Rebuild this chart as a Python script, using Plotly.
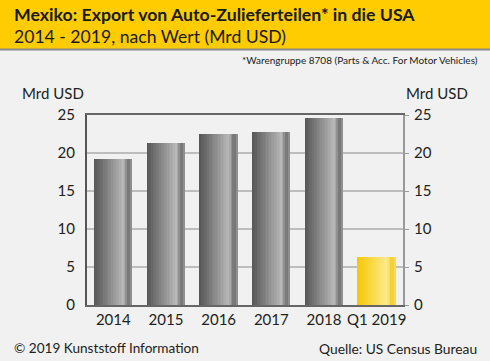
import plotly.graph_objects as go

categories = ["2014", "2015", "2016", "2017", "2018", "Q1 2019"]
values = [19.2, 21.3, 22.5, 22.8, 24.6, 6.3]
y_ticks = [0, 5, 10, 15, 20, 25]

W, H = 490, 361
L, R, T, B = 87, 87, 115, 56
PW, PH = W - L - R, H - T - B

def px(x):
    return (x - L) / PW

def py(y):
    return (H - B - y) / PH

def lerp(c1, c2, t):
    return tuple(int(round(a + (b - a) * t)) for a, b in zip(c1, c2))

def grad(t, dark, light, edge):
    if t < 0.78:
        return lerp(dark, light, t / 0.78)
    elif t < 0.92:
        return lerp(light, edge, (t - 0.78) / 0.14)
    else:
        return lerp(edge, light, (t - 0.92) / 0.08 * 0.6)

gray_dark, gray_light, gray_edge = (85, 85, 85), (185, 185, 185), (110, 110, 110)
yel_dark, yel_light, yel_edge = (246, 200, 0), (253, 234, 140), (245, 205, 40)

xs = list(range(len(categories)))
bw = 0.72
N = 24
sw = bw / N

fig = go.Figure()
for i in range(N):
    t = (i + 0.5) / N
    cols = []
    for c in categories:
        if c.startswith("Q1"):
            rgb = grad(t, yel_dark, yel_light, yel_edge)
        else:
            rgb = grad(t, gray_dark, gray_light, gray_edge)
        cols.append("rgb(%d,%d,%d)" % rgb)
    fig.add_trace(go.Bar(
        x=xs, y=values, width=sw * 1.05, offset=-bw / 2 + i * sw,
        marker=dict(color=cols, line=dict(width=0)),
        showlegend=False, hoverinfo="skip",
    ))

fig.add_trace(go.Scatter(x=[xs[0]], y=[0], yaxis="y2", mode="markers",
                         marker=dict(opacity=0), showlegend=False, hoverinfo="skip"))

font_family = "Lato, 'Open Sans', sans-serif"
tick_font = dict(family=font_family, size=15, color="#222")

fig.update_layout(
    width=W, height=H,
    margin=dict(l=L, r=R, t=T, b=B),
    paper_bgcolor="#f0f1f0", plot_bgcolor="#f0f1f0",
    barmode="overlay", bargap=0,
    font=dict(family=font_family, color="#222"),
    xaxis=dict(
        range=[-0.5, len(categories) - 0.5],
        tickvals=xs, ticktext=categories, tickfont=tick_font,
        showgrid=False, zeroline=False,
        showline=True, linecolor="#666", linewidth=2, mirror=True,
        ticks="", ticklabelstandoff=0,
    ),
    yaxis=dict(
        range=[0, 25], tickvals=y_ticks, tickfont=tick_font,
        showgrid=True, gridcolor="#bdbdbd", gridwidth=1.5, zeroline=False,
        showline=True, linecolor="#555", linewidth=2,
        ticks="", ticklabelstandoff=7,
    ),
    yaxis2=dict(
        range=[0, 25], tickvals=y_ticks, tickfont=tick_font,
        overlaying="y", side="right", showgrid=False, zeroline=False,
        showline=True, linecolor="#999", linewidth=2,
        ticks="outside", ticklen=4, tickcolor="#999", ticklabelstandoff=2,
    ),
    shapes=[
        dict(type="rect", xref="paper", yref="paper", x0=px(0), x1=px(W),
             y0=py(49), y1=py(0), fillcolor="#fecc00", line=dict(width=0), layer="below"),
        dict(type="line", xref="paper", yref="paper", x0=px(0), x1=px(W),
             y0=py(49.5), y1=py(49.5), line=dict(color="#8a8a8a", width=2)),
    ],
    annotations=[
        dict(text="<b>Mexiko: Export von Auto-Zulieferteilen* in die USA</b>",
             xref="paper", yref="paper", x=px(12), y=py(15), xanchor="left", yanchor="middle",
             showarrow=False, font=dict(family=font_family, size=17.7, color="#1a1a1a")),
        dict(text="2014 - 2019, nach Wert (Mrd USD)",
             xref="paper", yref="paper", x=px(12), y=py(36), xanchor="left", yanchor="middle",
             showarrow=False, font=dict(family=font_family, size=17.6, color="#1a1a1a")),
        dict(text="*Warengruppe 8708 (Parts & Acc. For Motor Vehicles)",
             xref="paper", yref="paper", x=px(480), y=py(60), xanchor="right", yanchor="middle",
             showarrow=False, font=dict(family=font_family, size=10, color="#222")),
        dict(text="Mrd USD",
             xref="paper", yref="paper", x=px(86), y=py(93), xanchor="right", yanchor="middle",
             showarrow=False, font=dict(family=font_family, size=15, color="#222")),
        dict(text="Mrd USD",
             xref="paper", yref="paper", x=px(404), y=py(93), xanchor="left", yanchor="middle",
             showarrow=False, font=dict(family=font_family, size=15, color="#222")),
        dict(text="© 2019 Kunststoff Information",
             xref="paper", yref="paper", x=px(12), y=py(348), xanchor="left", yanchor="middle",
             showarrow=False, font=dict(family=font_family, size=13.6, color="#222")),
        dict(text="Quelle: US Census Bureau",
             xref="paper", yref="paper", x=px(479), y=py(348), xanchor="right", yanchor="middle",
             showarrow=False, font=dict(family=font_family, size=13.8, color="#222")),
    ],
)

fig.write_html("out.html", config={"displayModeBar": False},
               post_script="document.body.style.margin='0';document.body.style.overflow='hidden';")
